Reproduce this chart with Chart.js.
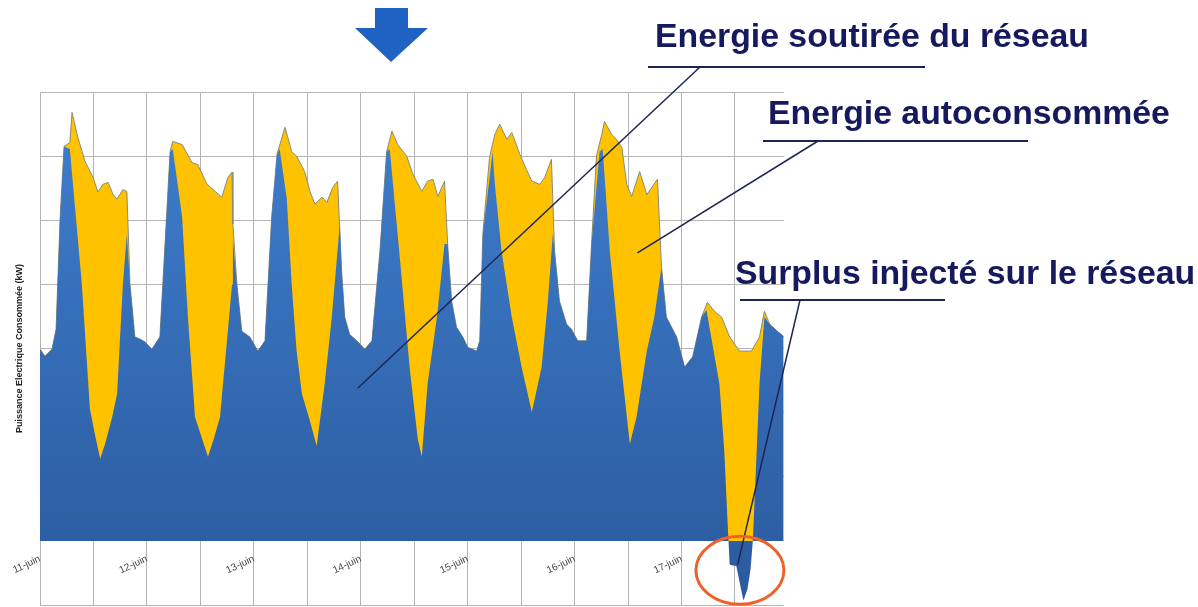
<!DOCTYPE html>
<html>
<head>
<meta charset="utf-8">
<title>Energie soutirée / autoconsommée</title>
<script src="https://cdn.jsdelivr.net/npm/chart.js"></script>
<style>
    body {
        margin: 0;
        background: #fff;
        font-family: "Liberation Sans", Arial, sans-serif;
    }
    #wrap {
        position: relative;
        width: 1198px;
        height: 607px;
        overflow: hidden;
    }
    #chart {
        position: absolute;
        left: 0;
        top: 0;
    }
    .note {
        position: absolute;
        font-weight: bold;
        font-size: 33.8px;
        color: #16195e;
        white-space: nowrap;
        line-height: 1;
    }
</style>
</head>
<body>
<div id="wrap">
    <canvas id="chart" width="1198" height="607"></canvas>
    <div class="note" style="left:655px; top:19px;">Energie soutirée du réseau</div>
    <div class="note" style="left:768px; top:96px;">Energie autoconsommée</div>
    <div class="note" style="left:735px; top:256px;">Surplus injecté sur le réseau</div>
</div>

<script>
    // heures depuis le 11-juin 00h, puissance en kW
    const dayLabels = ['11-juin', '12-juin', '13-juin', '14-juin', '15-juin', '16-juin', '17-juin'];

    // consommation totale (enveloppe haute)
    const totalHours = [
        0, 1.1, 2.7, 3.6, 4.5, 5.4, 6.7, 7.2, 8.5, 10.1, 11.9, 13.0, 14.1, 15.3, 16.4, 17.3, 18.6, 19.5,
        20.2, 21.3, 22.4, 23.6, 25.1, 26.9, 28.0, 29.2, 29.8, 31.9, 34.1, 35.4, 37.5, 39.3, 40.8, 42.2, 43.1,
        43.3, 44.2, 45.3, 47.1, 48.9, 50.5, 52.0, 53.2, 55.0, 56.5, 57.6, 59.4, 60.6, 61.7, 63.3, 64.4, 65.7,
        66.8, 67.7, 68.4, 69.5, 71.1, 72.9, 74.5, 76.3, 77.8, 79.0, 80.3, 82.3, 83.7, 85.7, 87.0, 88.2, 89.3,
        90.8, 91.5, 92.4, 93.5, 94.9, 96.0, 98.0, 98.7, 99.4, 100.9, 102.1, 103.2, 104.8, 105.9, 107.7, 109.2,
        110.4, 112.2, 113.3, 114.8, 115.5, 116.6, 118.2, 119.3, 120.7, 122.7, 123.8, 124.9, 126.1, 126.7,
        128.3, 129.4, 130.6, 131.7, 132.8, 134.6, 136.2, 138.6, 139.5, 140.6, 142.9, 144.7, 146.5, 148.5,
        149.8, 151.4, 153.0, 154.8, 157.0, 159.7, 161.5, 162.6, 163.8, 165.5, 166.9
    ];
    const totalValues = [
        29.9, 28.8, 29.9, 33.0, 50.2, 61.5, 62.1, 66.8, 62.9, 59.2, 56.7, 54.4, 55.6, 55.9, 54.0, 53.3, 54.8, 54.5,
        40.0, 31.8, 31.5, 31.0, 29.9, 31.8, 45.5, 60.7, 62.3, 61.8, 59.0, 58.7, 55.6, 54.5, 53.6, 56.7, 57.5,
        49.4, 40.0, 32.7, 31.8, 29.6, 31.2, 50.5, 60.3, 64.5, 60.7, 60.0, 57.6, 54.5, 52.5, 53.6, 52.8, 55.1,
        56.1, 42.1, 34.9, 32.2, 31.2, 29.9, 31.2, 45.2, 60.7, 63.9, 61.8, 60.0, 57.2, 54.5, 56.1, 56.4, 53.7,
        56.1, 46.3, 37.4, 33.3, 31.8, 30.2, 29.6, 31.2, 47.8, 59.8, 63.4, 65.0, 62.6, 63.7, 60.3, 57.9,
        56.1, 55.6, 56.7, 59.5, 45.2, 37.4, 33.8, 33.0, 31.2, 31.2, 46.3, 60.0, 63.4, 65.4,
        63.4, 62.6, 61.4, 55.6, 53.7, 57.6, 54.0, 56.4, 42.7, 34.9, 31.8, 27.1, 28.7, 34.9,
        37.2, 35.8, 34.9, 31.8, 29.6, 29.6, 31.8, 35.8, 33.8, 32.7, 31.9
    ];

    // énergie soutirée du réseau (négatif = surplus injecté)
    const gridHours = [
        0, 1.1, 2.7, 3.6, 4.5, 5.4, 6.7, 7.9, 9.4, 11.2, 12.3, 13.5, 14.6, 16.2, 17.3, 18.6, 19.5,
        20.2, 21.3, 22.4, 23.6, 25.1, 26.9, 28.0, 29.2, 29.8, 31.9, 33.2, 34.8, 37.7, 39.0, 40.4, 41.9, 43.1,
        43.3, 44.2, 45.3, 47.1, 48.9, 50.5, 52.0, 53.2, 53.8, 55.4, 56.5, 57.6, 58.8, 60.6, 62.1, 63.9, 65.5,
        67.3, 67.7, 68.4, 69.5, 71.1, 72.9, 74.5, 76.3, 77.8, 78.5, 80.8, 83.0, 84.8, 85.7, 87.0, 89.1, 90.8,
        91.5, 92.4, 93.5, 94.9, 96.0, 98.0, 98.7, 99.4, 101.6, 102.1, 103.6, 105.9, 108.1, 110.4, 112.6,
        114.0, 115.1, 115.5, 116.6, 118.2, 119.3, 120.7, 122.7, 123.8, 125.6, 126.3, 127.9, 130.1, 132.4,
        133.9, 136.2, 137.9, 139.5, 140.6, 142.9, 144.7, 146.5, 148.5, 149.6, 152.5, 153.6, 154.3, 154.8,
        155.2, 156.3, 157.1, 157.9, 158.8, 159.5, 160.0, 160.7, 161.5, 162.6, 163.8, 165.5, 166.9
    ];
    const gridValues = [
        29.9, 28.8, 29.9, 33.0, 50.2, 61.5, 61.1, 51.7, 40.0, 20.6, 16.7, 12.8, 15.1, 19.3, 22.9, 40.0, 47.8,
        40.0, 31.8, 31.5, 31.0, 29.9, 31.8, 45.5, 60.7, 61.1, 50.5, 34.9, 19.3, 13.1, 15.9, 19.3, 30.7, 40.0,
        47.0, 40.0, 32.7, 31.8, 29.6, 31.2, 50.5, 60.3, 61.1, 53.3, 40.0, 29.6, 22.9, 18.7, 14.8, 24.5, 34.9,
        49.4, 42.1, 34.9, 32.2, 31.2, 29.9, 31.2, 45.2, 60.7, 61.1, 43.9, 26.8, 15.9, 13.1, 24.5, 34.9, 46.3,
        46.3, 37.4, 33.3, 31.8, 30.2, 29.6, 31.2, 47.8, 60.7, 55.6, 45.2, 34.9, 27.1, 20.1, 27.1,
        37.4, 47.8, 45.2, 37.4, 33.8, 33.0, 31.2, 31.2, 46.3, 60.7, 61.1, 45.2, 29.6, 15.1,
        19.3, 29.6, 34.9, 42.7, 34.9, 31.8, 27.1, 28.7, 34.9, 36.0, 24.5, 14.0, 3.5, -3.7,
        -3.8, -3.9, -6.7, -9.3, -7.5, -4.4, 0.0, 11.2, 24.5, 34.9, 33.8, 32.7, 31.9
    ];

    const toPoints = (xs, ys) => xs.map((x, i) => ({ x: x, y: ys[i] }));

    // dégradé du bleu
    function blueFill(context) {
        const chart = context.chart;
        const area = chart.chartArea;
        if (!area) return '#3570c0';
        const g = chart.ctx.createLinearGradient(0, area.top, 0, area.bottom);
        g.addColorStop(0, '#3f7fce');
        g.addColorStop(0.85, '#2d5fa4');
        g.addColorStop(1, '#2b5a9c');
        return g;
    }

    // flèche, soulignements, traits de rappel et ellipse
    const decorations = {
        id: 'decorations',
        afterDraw(chart) {
            const c = chart.ctx;
            const xs = chart.scales.x;
            const ys = chart.scales.y;
            c.save();

            // flèche bleue
            c.fillStyle = '#1f62c4';
            c.beginPath();
            c.moveTo(375, 8);
            c.lineTo(408, 8);
            c.lineTo(408, 28);
            c.lineTo(428, 28);
            c.lineTo(391, 62);
            c.lineTo(355, 28);
            c.lineTo(375, 28);
            c.closePath();
            c.fill();

            c.strokeStyle = '#1d2456';
            c.lineWidth = 2;
            const seg = (x1, y1, x2, y2) => {
                c.beginPath();
                c.moveTo(x1, y1);
                c.lineTo(x2, y2);
                c.stroke();
            };
            seg(648, 67, 925, 67);
            seg(763, 141, 1028, 141);
            seg(740, 300, 945, 300);

            c.lineWidth = 1.5;
            seg(700, 67, xs.getPixelForValue(71.3), ys.getPixelForValue(23.8));
            seg(818, 141, xs.getPixelForValue(134.1), ys.getPixelForValue(44.9));
            seg(800, 300, xs.getPixelForValue(156.6), ys.getPixelForValue(-3.7));

            // ellipse orange autour du surplus
            c.strokeStyle = '#f0612a';
            c.lineWidth = 3;
            c.beginPath();
            c.ellipse(xs.getPixelForValue(157.1), ys.getPixelForValue(-4.6), 44, 34, 0, 0, Math.PI * 2);
            c.stroke();
            c.restore();
        }
    };

    new Chart(document.getElementById('chart'), {
        type: 'line',
        data: {
            datasets: [{
                label: 'Energie soutirée du réseau',
                data: toPoints(gridHours, gridValues),
                backgroundColor: blueFill,
                borderColor: 'rgba(60,120,200,0)',
                borderWidth: 0,
                fill: 'origin',
                pointRadius: 0,
                tension: 0,
                order: 0
            }, {
                label: 'Consommation totale',
                data: toPoints(totalHours, totalValues),
                backgroundColor: '#ffc200',
                borderColor: '#8a8a7a',
                borderWidth: 1,
                fill: 'origin',
                pointRadius: 0,
                tension: 0,
                order: 1
            }]
        },
        options: {
            responsive: false,
            animation: false,
            layout: {
                padding: { left: 0, right: 414, top: 92, bottom: 2 }
            },
            plugins: {
                legend: { display: false },
                tooltip: { enabled: false }
            },
            scales: {
                x: {
                    type: 'linear',
                    position: { y: 0 },
                    min: 0,
                    max: 167,
                    afterBuildTicks: scale => {
                        scale.ticks = scale.ticks.filter(t => t.value % 12 === 0);
                    },
                    ticks: {
                        stepSize: 12,
                        autoSkip: false,
                        minRotation: 25,
                        maxRotation: 25,
                        padding: 12,
                        color: '#444',
                        font: { family: 'Liberation Sans', size: 10 },
                        callback: v => (v % 24 === 0 ? dayLabels[v / 24] : '')
                    },
                    grid: { color: '#b4b4b4', drawTicks: false },
                    border: { display: false }
                },
                y: {
                    min: -10,
                    max: 70,
                    ticks: { display: false, stepSize: 10 },
                    grid: { color: '#b4b4b4', drawTicks: false },
                    border: { color: '#b4b4b4' },
                    title: {
                        display: true,
                        text: 'Puissance Electrique Consommée (kW)',
                        color: '#222',
                        font: { family: 'Liberation Sans', size: 9, weight: 'bold' },
                        padding: 14.6
                    }
                }
            }
        },
        plugins: [decorations]
    });
</script>
</body>
</html>
